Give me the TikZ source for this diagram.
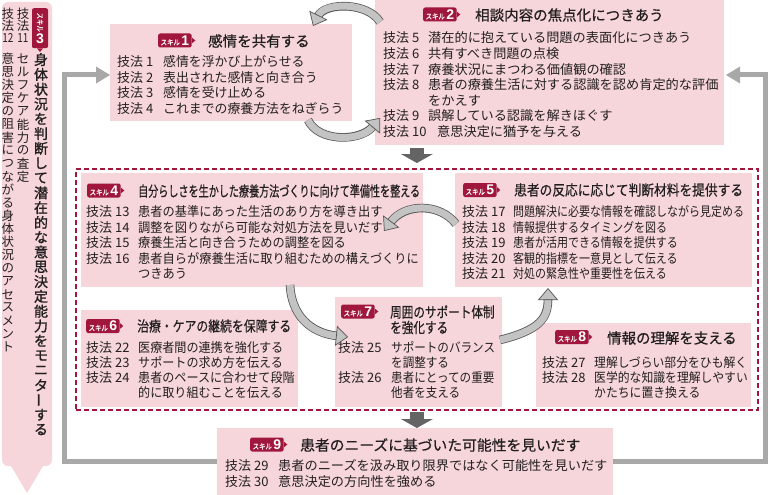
\documentclass[tikz,border=0pt]{standalone}
\usepackage{fontspec}
\usepackage{graphicx}
\usetikzlibrary{arrows.meta,calc}
\newfontfamily\jp{Noto Sans CJK JP}
\newfontfamily\jpb[FakeBold=1.3]{Noto Sans CJK JP}
\newfontfamily\jpm[FakeBold=0.6]{Noto Sans CJK JP}
\newfontfamily\numf{Liberation Sans}
\definecolor{pinkbg}{RGB}{246,214,218}
\definecolor{crimson}{RGB}{160,22,60}
\definecolor{txt}{RGB}{35,31,32}
\definecolor{loopgray}{RGB}{168,168,168}
\definecolor{darkarr}{RGB}{100,100,100}
\definecolor{ribfill}{RGB}{195,195,195}
\definecolor{ribline}{RGB}{85,85,85}
\newdimen\vcw \newdimen\vcp
\newcommand\vc[1]{\hbox to \vcw{\hss\vbox to \vcp{\vss\hbox{#1}\vss}\hss}}
\def\vend{}
\def\vloop#1{\ifx#1\vend\else\ifx#1ー\vc{\rotatebox[origin=c]{90}{ー}}\else\vc{#1}\fi\expandafter\vloop\fi}
\newcommand\vstack[4]{{#1\vcw=#2\relax\vcp=#3\relax\vbox{\offinterlineskip\vloop#4\vend}}}
\tikzset{
  box/.style={fill=pinkbg, inner sep=0pt, outer sep=0pt, anchor=north west},
  itm/.style={anchor=west, inner sep=0pt, text=txt, font=\jp\fontsize{13}{13}\selectfont},
  ttl/.style={anchor=west, inner sep=0pt, text=txt, font=\jpm\fontsize{14.5}{14.5}\selectfont},
  vt/.style={anchor=north, inner sep=0pt, text=txt},
  badge/.style={fill=crimson, text=white, rounded corners=2pt, anchor=west, inner xsep=2.5pt, inner ysep=0pt, minimum height=14pt},
  ribbon/.style={line width=7pt, draw=ribfill, -{Triangle[width=20pt,length=12pt,line width=0.7pt,color=ribline,fill=ribfill]},
     preaction={draw=ribline, line width=8.6pt, -, shorten >=11pt}},
  loopline/.style={line width=5pt, draw=loopgray, -{Triangle[width=17pt,length=14pt,line width=0pt]}},
  downarr/.style={line width=14pt, draw=darkarr, -{Triangle[width=32pt,length=9pt,line width=0pt]}},
  dashbox/.style={draw=crimson, line width=1.8pt, dash pattern=on 5pt off 3pt, inner sep=0pt, anchor=north west}
}
\newcommand\skillbadge[4]{\node[badge] (#1) at (#2,#3) {\scalebox{0.85}[1]{\jpb\fontsize{7.5}{7.5}\selectfont スキル}\hspace{1.5pt}{\numf\bfseries\fontsize{14}{14}\selectfont #4}};
  \fill[crimson] ([yshift=3pt]#1.east) -- ([xshift=3.5pt]#1.east) -- ([yshift=-3pt]#1.east) -- cycle;}
\newcommand\ttlnode[5]{\node[ttl] (#1) at (#2,#3) {\scalebox{#4}[1]{#5}};}
\newcommand\tline[7]{\node[itm] (#1) at (#2,#3) {\makebox[#4pt][l]{技法 #5}\scalebox{#6}[1]{#7}};}
\newcommand\tcont[5]{\node[itm] (#1) at (#2,#3) {\scalebox{#4}[1]{#5}};}
\begin{document}
\begin{tikzpicture}[x=1pt,y=-1pt]
\useasboundingbox (0,0) rectangle (771,495);
% boxes
\node[box, minimum width=242pt, minimum height=97pt] (b1) at (110,24) {};
\node[box, minimum width=349pt, minimum height=145pt] (b2) at (375,0) {};
\node[box, minimum width=342pt, minimum height=114pt] (b4) at (81,173) {};
\node[box, minimum width=297pt, minimum height=114pt] (b5) at (455,173) {};
\node[box, minimum width=217pt, minimum height=97pt] (b6) at (81,310) {};
\node[box, minimum width=167pt, minimum height=110pt] (b7) at (335,297) {};
\node[box, minimum width=215pt, minimum height=84pt] (b8) at (536,323) {};
\node[box, minimum width=396pt, minimum height=67pt] (b9) at (217,428) {};
\node[box, rounded corners=6pt, minimum width=50pt, minimum height=464pt] (b3) at (2,2) {};
\fill[pinkbg] ([xshift=-16pt]b3.south) -- ([xshift=16pt]b3.south) -- ([yshift=-27pt]b3.south) -- cycle;
\node[dashbox, minimum width=682pt, minimum height=241pt] (dz) at (75,168) {};
% gray loop
\coordinate (lc) at (64.5,300);
\coordinate (rc) at (765.5,300);
\draw[loopline] (b9.west) -| (lc) |- ([yshift=-2.5pt]b1.west);
\draw[loopline] (b9.east) -| (rc) |- ([yshift=-2.5pt,xshift=2pt]b2.east);
% down arrows
\draw[downarr, shorten <=3pt] (b2.south -| dz.north) -- ([yshift=5pt]dz.north);
\draw[downarr, shorten <=1pt] (dz.south) -- (b9.north -| dz.south);
% left column
\node[badge, anchor=north, minimum width=16pt, minimum height=40pt, inner xsep=0pt, align=center] (bd3) at (40,8)
  {\rotatebox{-90}{\scalebox{0.85}[1]{\jpb\fontsize{7.5}{7.5}\selectfont スキル}}\\[1pt]{\numf\bfseries\fontsize{14}{14}\selectfont 3}};
\fill[crimson] ([xshift=-3pt]bd3.south) -- ([xshift=3pt]bd3.south) -- ([yshift=-3.5pt]bd3.south) -- cycle;
\node[vt] (v1) at (41,52) {\vstack{\jpb\fontsize{14}{14}\selectfont}{14.5pt}{14.8pt}{身体状況を判断して潜在的な意思決定能力をモニターする}};
\node[vt] (v2a) at (23,7) {{\jp\fontsize{12.5}{12.5}\selectfont\vcw=13pt\vcp=12.5pt\vbox{\offinterlineskip\vloop 技法\vend\vc{\scalebox{0.8}[1]{11}}}}};
\node[vt] (v2b) at (23,52) {\vstack{\jp\fontsize{12.5}{12.5}\selectfont}{13pt}{13.1pt}{セルフケア能力の査定}};
\node[vt] (v3a) at (8,7) {{\jp\fontsize{12.5}{12.5}\selectfont\vcw=13pt\vcp=12.5pt\vbox{\offinterlineskip\vloop 技法\vend\vc{\scalebox{0.8}[1]{12}}}}};
\node[vt] (v3b) at (8,52) {\vstack{\jp\fontsize{12.5}{12.5}\selectfont}{13pt}{13.1pt}{意思決定の阻害につながる身体状況のアセスメント}};
% skill 1
\skillbadge{bd1}{158}{40.5}{1}
\ttlnode{t1}{208}{41}{1.0}{感情を共有する}
\tline{s1a}{117}{62}{46}{1}{0.99}{感情を浮かび上がらせる}
\tline{s1b}{117}{77.5}{46}{2}{0.99}{表出された感情と向き合う}
\tline{s1c}{117}{93}{46}{3}{0.99}{感情を受け止める}
\tline{s1d}{117}{108.5}{46}{4}{0.99}{これまでの療養方法をねぎらう}
% skill 2
\skillbadge{bd2}{423}{14.5}{2}
\ttlnode{t2}{475}{15}{1.0}{相談内容の焦点化につきあう}
\tline{s2a}{383}{38}{45}{5}{1.015}{潜在的に抱えている問題の表面化につきあう}
\tline{s2b}{383}{54}{45}{6}{1.015}{共有すべき問題の点検}
\tline{s2c}{383}{69.5}{45}{7}{1.015}{療養状況にまつわる価値観の確認}
\tline{s2d}{383}{85}{45}{8}{1.015}{患者の療養生活に対する認識を認め肯定的な評価}
\tcont{s2e}{428}{100.5}{1.015}{をかえす}
\tline{s2f}{383}{116}{45}{9}{1.015}{誤解している認識を解きほぐす}
\tline{s2g}{383}{131.5}{54}{10}{1.015}{意思決定に猶予を与える}
% skill 4
\skillbadge{bd4}{87}{190.5}{4}
\ttlnode{t4}{138}{191}{0.695}{自分らしさを生かした療養方法づくりに向けて準備性を整える}
\tline{s4a}{86}{212}{52}{13}{0.94}{患者の基準にあった生活のあり方を導き出す}
\tline{s4b}{86}{227.5}{52}{14}{0.94}{調整を図りながら可能な対処方法を見いだす}
\tline{s4c}{86}{243}{52}{15}{0.94}{療養生活と向き合うための調整を図る}
\tline{s4d}{86}{258.5}{52}{16}{0.94}{患者自らが療養生活に取り組むための構えづくりに}
\tcont{s4e}{138}{274}{0.94}{つきあう}
% skill 5
\skillbadge{bd5}{463}{190}{5}
\ttlnode{t5}{514}{190}{0.877}{患者の反応に応じて判断材料を提供する}
\tline{s5a}{462}{212}{51}{17}{0.846}{問題解決に必要な情報を確認しながら見定める}
\tline{s5b}{462}{227.5}{51}{18}{0.846}{情報提供するタイミングを図る}
\tline{s5c}{462}{243}{51}{19}{0.846}{患者が活用できる情報を提供する}
\tline{s5d}{462}{258.5}{51}{20}{0.846}{客観的指標を一意見として伝える}
\tline{s5e}{462}{274}{51}{21}{0.846}{対処の緊急性や重要性を伝える}
% skill 6
\skillbadge{bd6}{86}{326}{6}
\ttlnode{t6}{137}{326}{0.817}{治療・ケアの継続を保障する}
\tline{s6a}{86}{347.5}{52}{22}{0.93}{医療者間の連携を強化する}
\tline{s6b}{86}{362.5}{52}{23}{0.93}{サポートの求め方を伝える}
\tline{s6c}{86}{377.5}{52}{24}{0.93}{患者のペースに合わせて段階}
\tcont{s6d}{138}{393}{0.93}{的に取り組むことを伝える}
% skill 7
\skillbadge{bd7}{341}{311.5}{7}
\ttlnode{t7a}{390}{312}{0.80}{周囲のサポート体制}
\ttlnode{t7b}{390}{327.5}{0.80}{を強化する}
\tline{s7a}{338}{347.5}{53}{25}{0.89}{サポートのバランス}
\tcont{s7b}{391}{362.5}{0.89}{を調整する}
\tline{s7c}{338}{377.5}{53}{26}{0.89}{患者にとっての重要}
\tcont{s7d}{391}{393}{0.89}{他者を支える}
% skill 8
\skillbadge{bd8}{555}{337}{8}
\ttlnode{t8}{607}{338}{0.996}{情報の理解を支える}
\tline{s8a}{542}{362.5}{52}{27}{0.91}{理解しづらい部分をひも解く}
\tline{s8b}{542}{377.5}{52}{28}{0.91}{医学的な知識を理解しやすい}
\tcont{s8c}{594}{393}{0.91}{かたちに置き換える}
% skill 9
\skillbadge{bd9}{250}{444.5}{9}
\ttlnode{t9}{300}{445}{1.02}{患者のニーズに基づいた可能性を見いだす}
\tline{s9a}{225}{466}{53}{29}{1.015}{患者のニーズを汲み取り限界ではなく可能性を見いだす}
\tline{s9b}{225}{482}{53}{30}{1.015}{意思決定の方向性を強める}
% ribbon arrows
\draw[ribbon] ($(b2.north west)+(5,22)$) .. controls (368,2) and (325,2) .. ($(b1.north east)+(-39,2)$);
\draw[ribbon] ($(b1.south east)+(-44,-1)$) .. controls (318,142) and (360,142) .. ($(b2.south west)+(5,-27)$);
\draw[ribbon] ($(b5.west)+(1,-6)$) .. controls (440,203) and (405,203) .. ($(b4.east)+(-39,1)$);
\draw[ribbon] ($(b4.south west)+(209,-2)$) .. controls (292,322) and (318,334) .. ($(b7.west)+(13,-15)$);
\draw[ribbon] ($(b7.east)+(-2,-12)$) .. controls (540,330) and (548,318) .. ($(b5.south west)+(93,1)$);
\end{tikzpicture}
\end{document}
